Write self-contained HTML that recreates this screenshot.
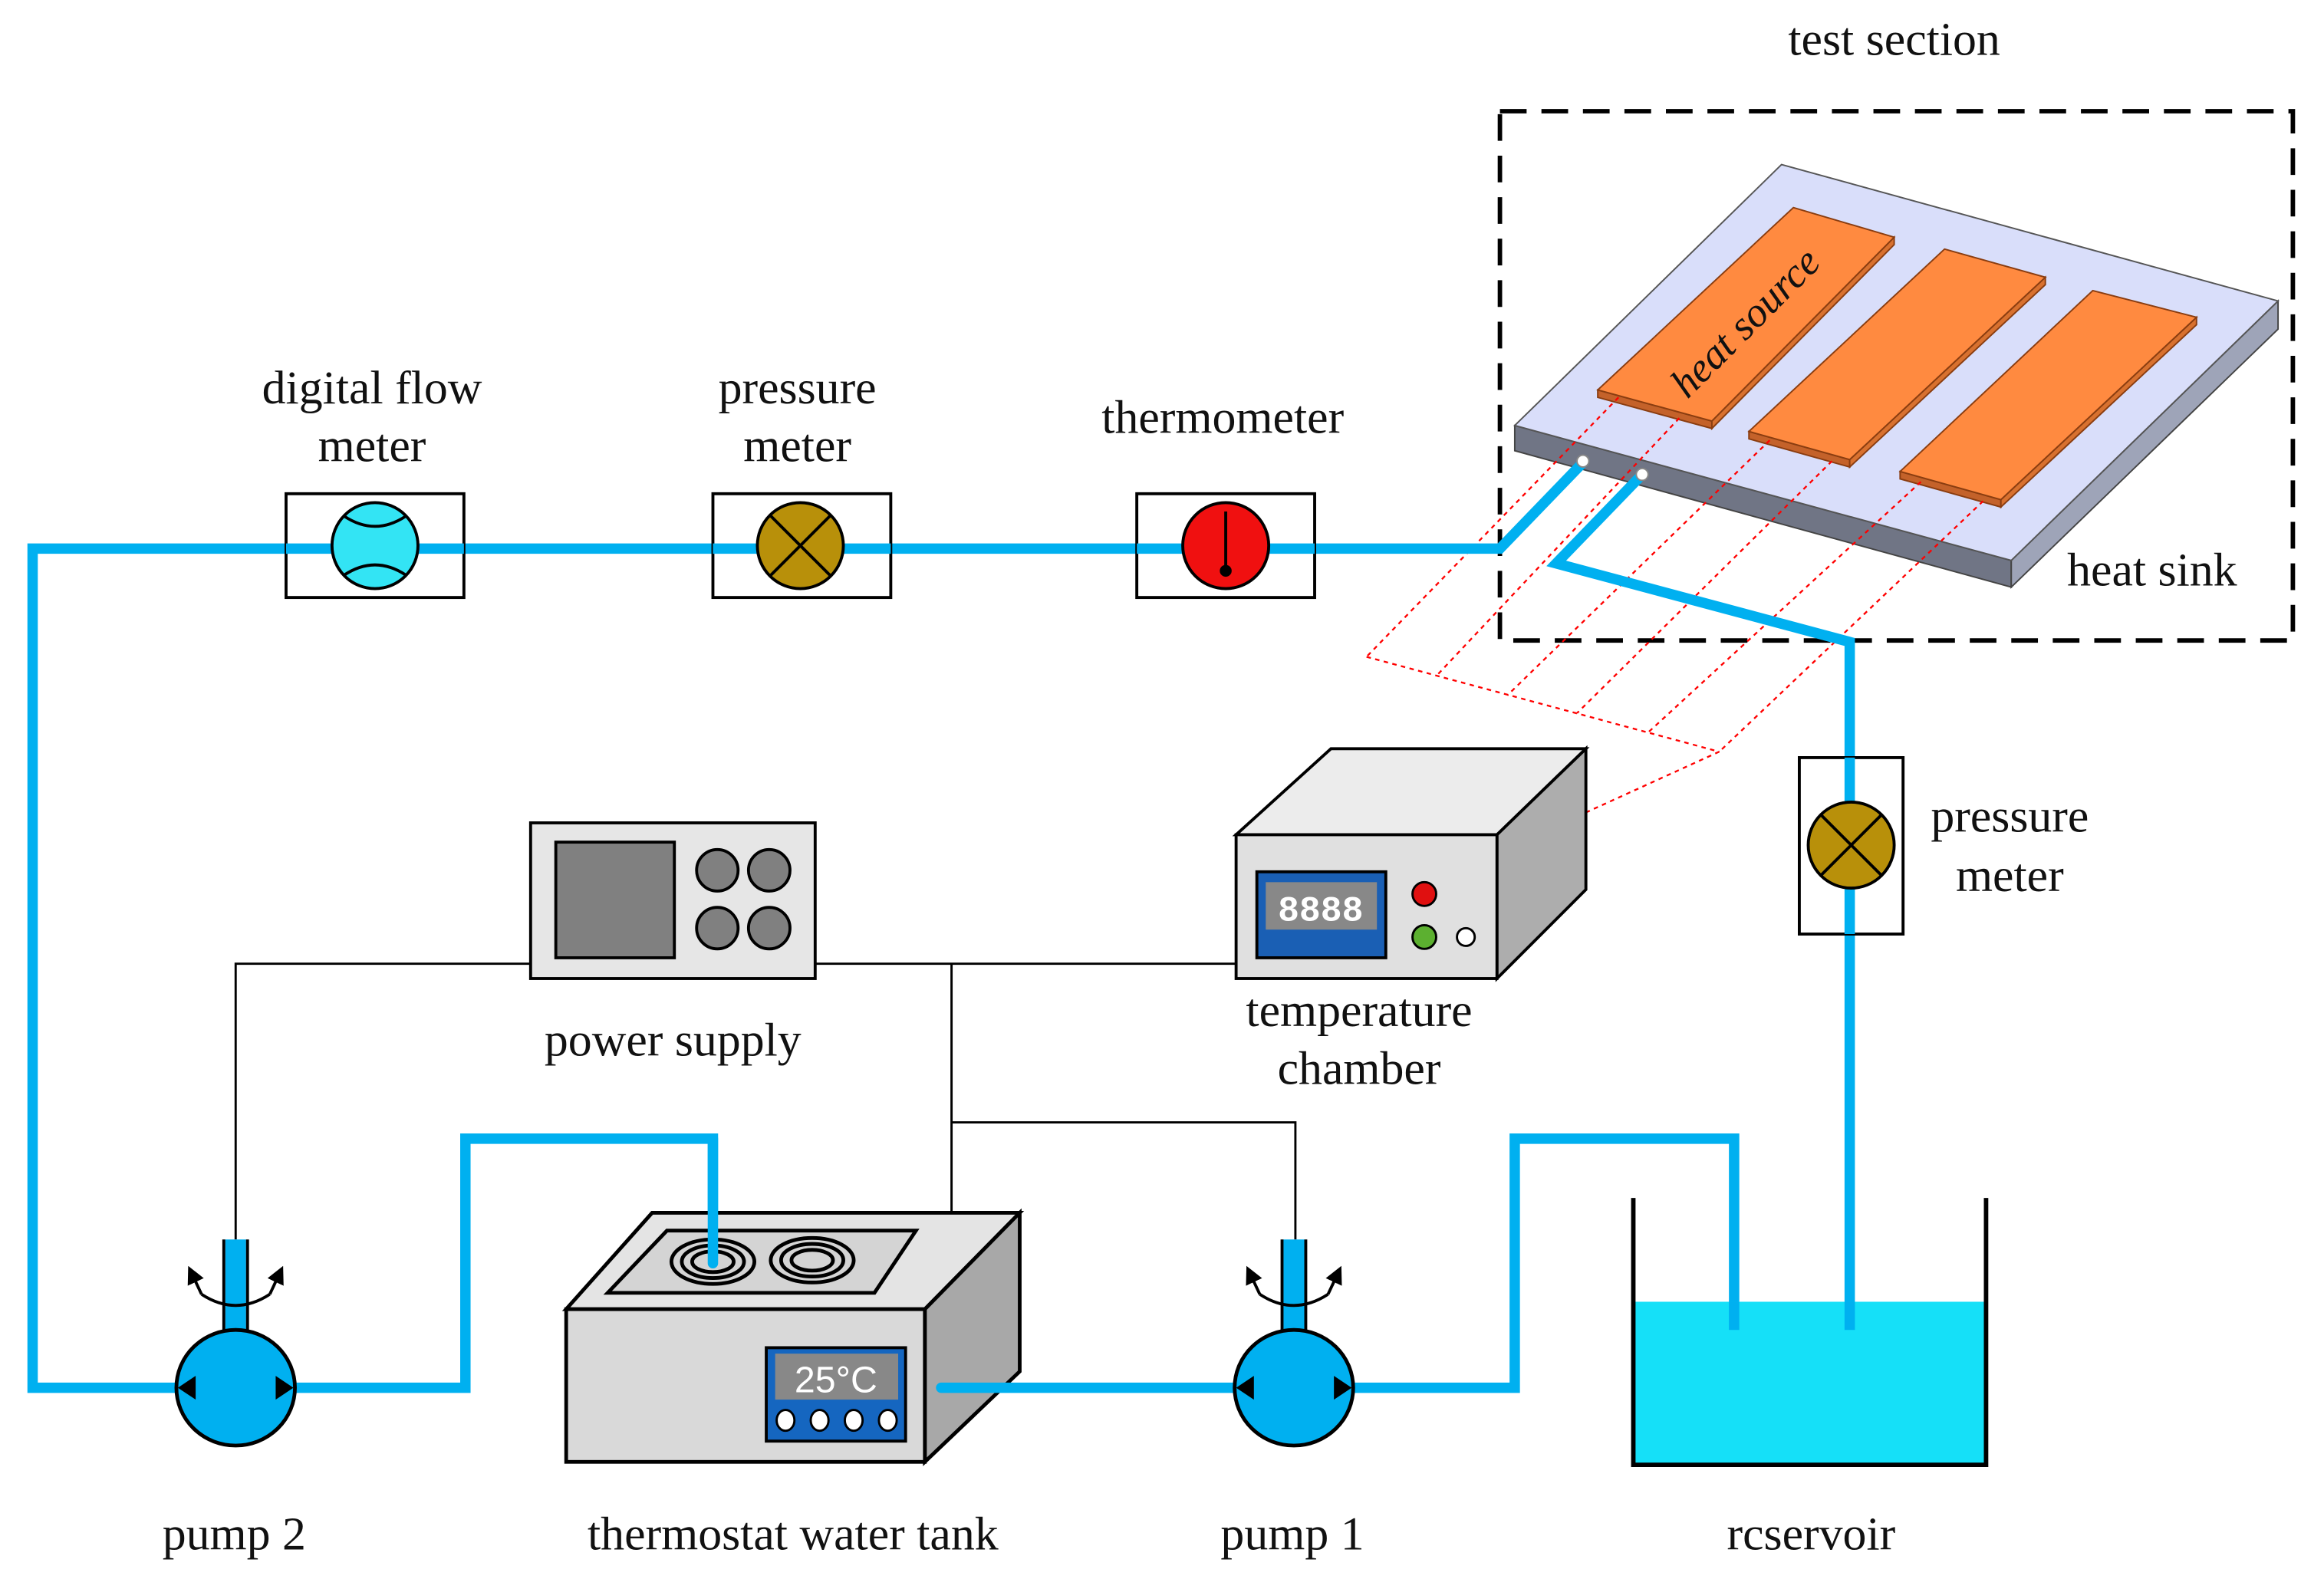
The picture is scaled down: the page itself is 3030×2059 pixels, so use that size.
<!DOCTYPE html>
<html><head><meta charset="utf-8"><style>
html,body{margin:0;padding:0;background:#fff;}
svg{display:block;}
text{font-family:"Liberation Serif",serif;fill:#111;}
</style></head><body>
<svg width="3030" height="2059" viewBox="0 0 1568 1065" preserveAspectRatio="none" xmlns="http://www.w3.org/2000/svg">
<defs>
<marker id="ah" viewBox="0 0 10 10" refX="8" refY="5" markerWidth="6" markerHeight="6" orient="auto"><path d="M0,0L10,5L0,10z" fill="#000"/></marker>
</defs>
<rect width="1568" height="1065" fill="#fff"/>

<!-- test section -->
<text x="1278" y="37" font-size="32" text-anchor="middle">test section</text>
<rect x="1012" y="75" width="535" height="357" fill="none" stroke="#000" stroke-width="3" stroke-dasharray="18 10"/>

<!-- heat sink -->
<polygon points="1022,287 1357,378 1357,396 1022,304" fill="#707585" stroke="#444" stroke-width="1"/>
<polygon points="1357,378 1537,203 1537,222 1357,396" fill="#9ea4b8" stroke="#444" stroke-width="1"/>
<polygon points="1022,287 1202,111 1537,203 1357,378" fill="#d9defa" stroke="#555" stroke-width="1"/>

<!-- heat sources -->
<g stroke="#8a3d10" stroke-width="1">
<polygon points="1078,263 1155,284 1155,289 1078,268" fill="#c4622a"/>
<polygon points="1155,284 1278,160 1278,165 1155,289" fill="#d8712f"/>
<polygon points="1078,263 1210,140 1278,160 1155,284" fill="#ff8a40"/>
<polygon points="1180,291 1248,310 1248,315 1180,296" fill="#c4622a"/>
<polygon points="1248,310 1380,187 1380,192 1248,315" fill="#d8712f"/>
<polygon points="1180,291 1312,168 1380,187 1248,310" fill="#ff8a40"/>
<polygon points="1282,318 1350,337 1350,342 1282,323" fill="#c4622a"/>
<polygon points="1350,337 1482,214 1482,219 1350,342" fill="#d8712f"/>
<polygon points="1282,318 1412,196 1482,214 1350,337" fill="#ff8a40"/>
</g>
<text x="0" y="0" font-size="28" font-style="italic" text-anchor="middle" transform="translate(1184,224) rotate(-45)">heat source</text>
<text x="1452" y="395" font-size="32" text-anchor="middle">heat sink</text>

<!-- red dotted projection lines -->
<g stroke="#f00" stroke-width="1.2" stroke-dasharray="3 3" fill="none">
<line x1="1092" y1="268" x2="922" y2="443"/>
<line x1="1133" y1="282" x2="969" y2="456"/>
<line x1="1194" y1="297" x2="1017" y2="469"/>
<line x1="1236" y1="311" x2="1064" y2="481"/>
<line x1="1296" y1="325" x2="1112" y2="494"/>
<line x1="1338" y1="338" x2="1160" y2="507"/>
<line x1="922" y1="443" x2="1160" y2="507"/>
<line x1="1160" y1="507" x2="1070" y2="548"/>
</g>

<!-- blue pipes -->
<g stroke="#00b0f0" stroke-width="7" fill="none" stroke-linejoin="miter" stroke-linecap="round">
<polyline points="120,936 22,936 22,370 1012,370 1068,312"/>
<polyline points="1108,320 1050,380 1248,433 1248,897"/>
<polyline points="200,936 314,936 314,768 481,768 481,852"/>
<polyline points="1170,897 1170,768 1022,768 1022,936 912,936"/>
</g>
<circle cx="1068" cy="311" r="4" fill="#fff" stroke="#888"/>
<circle cx="1108" cy="320" r="4" fill="#fff" stroke="#888"/>

<!-- instruments -->
<rect x="193" y="333" width="120" height="70" fill="#fff" stroke="#000" stroke-width="2"/>
<line x1="193" y1="370" x2="313" y2="370" stroke="#00b0f0" stroke-width="7"/>
<circle cx="253" cy="368" r="29" fill="#33e4f4" stroke="#000" stroke-width="2"/>
<path d="M232,348 Q253,362 274,348 M232,388 Q253,374 274,388" fill="none" stroke="#000" stroke-width="2"/>

<rect x="481" y="333" width="120" height="70" fill="#fff" stroke="#000" stroke-width="2"/>
<line x1="481" y1="370" x2="601" y2="370" stroke="#00b0f0" stroke-width="7"/>
<circle cx="540" cy="368" r="29" fill="#b8900a" stroke="#000" stroke-width="2"/>
<path d="M520,348 L560,388 M560,348 L520,388" stroke="#000" stroke-width="2"/>

<rect x="767" y="333" width="120" height="70" fill="#fff" stroke="#000" stroke-width="2"/>
<line x1="767" y1="370" x2="887" y2="370" stroke="#00b0f0" stroke-width="7"/>
<circle cx="827" cy="368" r="29" fill="#f01010" stroke="#000" stroke-width="2"/>
<line x1="827" y1="345" x2="827" y2="384" stroke="#000" stroke-width="2"/>
<circle cx="827" cy="385" r="4" fill="#000"/>

<rect x="1214" y="511" width="70" height="119" fill="#fff" stroke="#000" stroke-width="2"/>
<line x1="1248" y1="511" x2="1248" y2="630" stroke="#00b0f0" stroke-width="7"/>
<circle cx="1249" cy="570" r="29" fill="#b8900a" stroke="#000" stroke-width="2"/>
<path d="M1229,550 L1269,590 M1269,550 L1229,590" stroke="#000" stroke-width="2"/>

<g font-size="32" text-anchor="middle">
<text x="251" y="272">digital flow</text>
<text x="251" y="311">meter</text>
<text x="538" y="272">pressure</text>
<text x="538" y="311">meter</text>
<text x="825" y="292">thermometer</text>
<text x="1356" y="561">pressure</text>
<text x="1356" y="601">meter</text>
<text x="454" y="712">power supply</text>
<text x="917" y="692">temperature</text>
<text x="917" y="731">chamber</text>
<text x="158" y="1045">pump 2</text>
<text x="535" y="1045">thermostat water tank</text>
<text x="872" y="1045">pump 1</text>
<text x="1222" y="1045">rcservoir</text>
</g>

<!-- wires -->
<g stroke="#000" stroke-width="1.5" fill="none">
<polyline points="358,650 159,650 159,836"/>
<line x1="550" y1="650" x2="834" y2="650"/>
<line x1="642" y1="650" x2="642" y2="818"/>
<polyline points="642,757 874,757 874,836"/>
</g>

<!-- power supply -->
<rect x="358" y="555" width="192" height="105" fill="#e6e6e6" stroke="#000" stroke-width="2"/>
<rect x="375" y="568" width="80" height="78" fill="#808080" stroke="#000" stroke-width="2"/>
<g fill="#808080" stroke="#000" stroke-width="2">
<circle cx="484" cy="587" r="14"/><circle cx="519" cy="587" r="14"/>
<circle cx="484" cy="626" r="14"/><circle cx="519" cy="626" r="14"/>
</g>

<!-- temperature chamber -->
<g stroke="#000" stroke-width="2">
<polygon points="834,563 898,505 1070,505 1010,563" fill="#ececec"/>
<polygon points="1010,563 1070,505 1070,600 1010,660" fill="#adadad"/>
<rect x="834" y="563" width="176" height="97" fill="#e0e0e0"/>
<rect x="848" y="588" width="87" height="58" fill="#1a5fb4"/>
</g>
<rect x="854" y="595" width="75" height="32" fill="#888"/>
<text x="891" y="621" font-size="24" text-anchor="middle" style="font-family:'Liberation Mono',monospace;fill:#fff" font-weight="bold">8888</text>
<circle cx="961" cy="603" r="8" fill="#e01010" stroke="#000" stroke-width="1.5"/>
<circle cx="961" cy="632" r="8" fill="#5cb030" stroke="#000" stroke-width="1.5"/>
<circle cx="989" cy="632" r="6" fill="#fff" stroke="#000" stroke-width="1.5"/>

<!-- thermostat tank -->
<g stroke="#000" stroke-width="2.5">
<polygon points="382,883 440,818 688,818 624,883" fill="#e4e4e4"/>
<polygon points="624,883 688,818 688,925 624,986" fill="#a8a8a8"/>
<rect x="382" y="883" width="242" height="103" fill="#d9d9d9"/>
<polygon points="410,872 450,830 618,830 590,872" fill="#d4d4d4"/>
</g>
<g fill="none" stroke="#000" stroke-width="2.5">
<ellipse cx="481" cy="851" rx="28" ry="15"/><ellipse cx="481" cy="851" rx="21" ry="11"/><ellipse cx="481" cy="851" rx="14" ry="7"/>
<ellipse cx="548" cy="850" rx="28" ry="15"/><ellipse cx="548" cy="850" rx="21" ry="11"/><ellipse cx="548" cy="850" rx="14" ry="7"/>
</g>
<line x1="481" y1="768" x2="481" y2="852" stroke="#00b0f0" stroke-width="7" stroke-linecap="round"/>
<line x1="835" y1="936" x2="635" y2="936" stroke="#00b0f0" stroke-width="7" stroke-linecap="round"/>
<rect x="517" y="909" width="94" height="63" fill="#1566c0" stroke="#000" stroke-width="2"/>
<rect x="523" y="913" width="83" height="31" fill="#888"/>
<text x="564" y="939" font-size="25" text-anchor="middle" style="font-family:'Liberation Sans',sans-serif;fill:#fff">25°C</text>
<g fill="#fff" stroke="#000" stroke-width="1.5">
<ellipse cx="530" cy="958" rx="6" ry="7"/><ellipse cx="553" cy="958" rx="6" ry="7"/><ellipse cx="576" cy="958" rx="6" ry="7"/><ellipse cx="599" cy="958" rx="6" ry="7"/>
</g>

<!-- pumps -->
<g id="p2">
<rect x="152" y="836" width="14" height="64" fill="#00b0f0"/>
<line x1="151" y1="836" x2="151" y2="898" stroke="#000" stroke-width="2"/>
<line x1="167" y1="836" x2="167" y2="898" stroke="#000" stroke-width="2"/>
<path d="M136,873 Q159,888 182,873" fill="none" stroke="#000" stroke-width="2"/>
<path d="M136,873 L128,856" stroke="#000" stroke-width="2" marker-end="url(#ah)"/>
<path d="M182,873 L190,856" stroke="#000" stroke-width="2" marker-end="url(#ah)"/>
<ellipse cx="159" cy="936" rx="40" ry="39" fill="#00b0f0" stroke="#000" stroke-width="2.5"/>
<polygon points="120,936 132,928 132,944" fill="#000"/>
<polygon points="198,936 186,928 186,944" fill="#000"/>
</g>
<use href="#p2" transform="translate(714,0)"/>

<!-- reservoir -->
<rect x="1102" y="878" width="238" height="110" fill="#15e0f8"/>
<line x1="1170" y1="878" x2="1170" y2="897" stroke="#00b0f0" stroke-width="7"/>
<line x1="1248" y1="878" x2="1248" y2="897" stroke="#00b0f0" stroke-width="7"/>
<polyline points="1102,808 1102,988 1340,988 1340,808" fill="none" stroke="#000" stroke-width="3"/>
</svg>
</body></html>
